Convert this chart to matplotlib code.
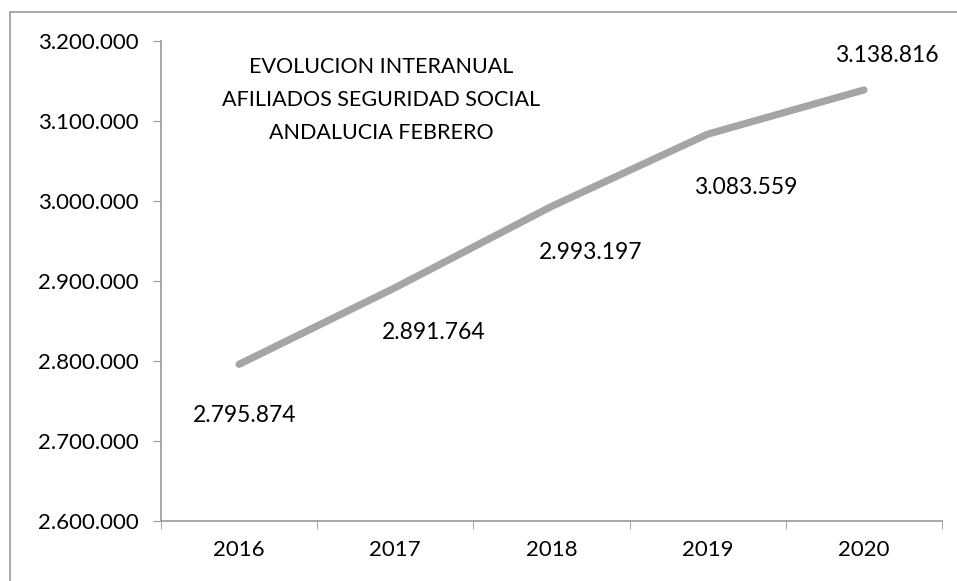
import matplotlib.pyplot as plt
from matplotlib.patches import Rectangle
from matplotlib.ticker import FuncFormatter

# Afiliados a la Seguridad Social en Andalucia, mes de febrero
years = ['2016', '2017', '2018', '2019', '2020']
afiliados = [2795874, 2891764, 2993197, 3083559, 3138816]
# label offsets in pixels (dx, dy) from each point
label_offsets = [(6, -51), (38, -45), (39, -46), (38, -53), (23, 34)]

def miles(v):
    return f'{int(v):,}'.replace(',', '.')

plt.rcParams['font.family'] = ['Lato', 'DejaVu Sans']

fig = plt.figure(figsize=(9.57, 5.81), dpi=100)
ax = fig.add_axes([161 / 957, 60 / 581, (942 - 161) / 957, 480 / 581])

x = range(len(years))
ax.plot(x, afiliados, color='#a5a5a5', linewidth=5.2, solid_capstyle='round')

for i, v in enumerate(afiliados):
    dx, dy = label_offsets[i]
    ax.annotate(miles(v), (i, v), xytext=(dx * 0.72, dy * 0.72),
                textcoords='offset points', ha='center', va='center',
                fontsize=16.5, color='black')

ax.set_xlim(-0.5, 4.5)
ax.set_ylim(2600000, 3200000)
ax.set_yticks(range(2600000, 3200001, 100000))
ax.yaxis.set_major_formatter(FuncFormatter(lambda v, p: miles(v)))
ax.set_xticks(x)
ax.set_xticklabels(years)
ax.set_xticks([i - 0.5 for i in range(len(years) + 1)], minor=True)
ax.tick_params(axis='x', which='major', length=0, pad=14, labelsize=16)
ax.tick_params(axis='x', which='minor', length=6, color='#999999')
ax.tick_params(axis='y', length=6, color='#999999', pad=10, labelsize=16)

for s in ['top', 'right']:
    ax.spines[s].set_visible(False)
for s in ['left', 'bottom']:
    ax.spines[s].set_color('#999999')
    ax.spines[s].set_linewidth(1.2)

ax.text(0.2817, 0.877, 'EVOLUCION INTERANUAL\nAFILIADOS SEGURIDAD SOCIAL\nANDALUCIA FEBRERO',
        transform=ax.transAxes, ha='center', va='center', fontsize=15.5,
        linespacing=1.8)

# outer chart frame
fig.patches.append(Rectangle((10 / 957, -0.1), 1.2, (581 - 12) / 581 + 0.1,
                             transform=fig.transFigure, fill=False,
                             edgecolor='#999999', linewidth=1.2))

fig.savefig('out.png', dpi=100)
